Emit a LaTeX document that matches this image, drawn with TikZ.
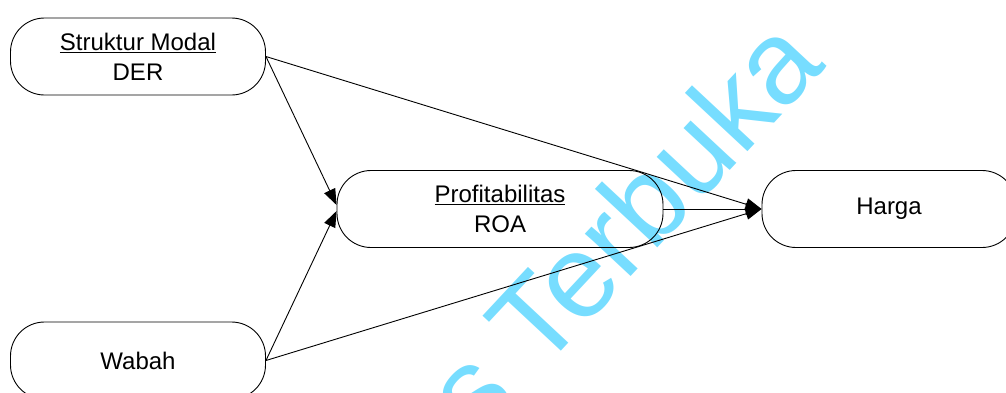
\documentclass[tikz,border=0pt]{standalone}
\usepackage{fontspec}
\setmainfont{Liberation Sans}
\usetikzlibrary{arrows.meta}
\definecolor{wmcyan}{RGB}{119,221,255}

\begin{document}
\begin{tikzpicture}[
      x=1pt, y=-1pt,
      var/.style={draw, rectangle, rounded corners=34pt, line width=0.9pt,
                  minimum height=77pt, inner sep=0pt, align=center,
                  font=\fontsize{24}{30}\selectfont},
      wmark/.style={text=wmcyan, inner sep=0pt, font=\fontsize{118}{118}\selectfont},
      -{Triangle[length=16pt, width=12pt]}, line width=0.9pt
  ]
  \useasboundingbox (0,0) rectangle (1006,392);

  % Watermark behind the diagram
  \node[wmark, rotate=47, anchor=base west] (wm) at (478,441) {s Terbuka};

  % Nodes
  \node[var, minimum width=255pt] (struktur) at (138,56.5) {\underline{Struktur Modal}\\DER};
  \node[var, minimum width=326pt] (profit) at (500,209) {\underline{Profitabilitas}\\ROA};
  \node[var, minimum width=254pt] (harga) at (889,209) {Harga};
  \node[var, minimum width=255pt] (wabah) at (138,360.5) {Wabah};

  % Arrows connecting nodes
  \draw (struktur.east) -- ([yshift=4pt]profit.west);
  \draw (wabah.east) -- ([yshift=-2pt]profit.west);
  \draw (struktur.east) -- (harga.west);
  \draw (profit.east) -- (harga.west);
  \draw (wabah.east) -- (harga.west);

\end{tikzpicture}
\end{document}
